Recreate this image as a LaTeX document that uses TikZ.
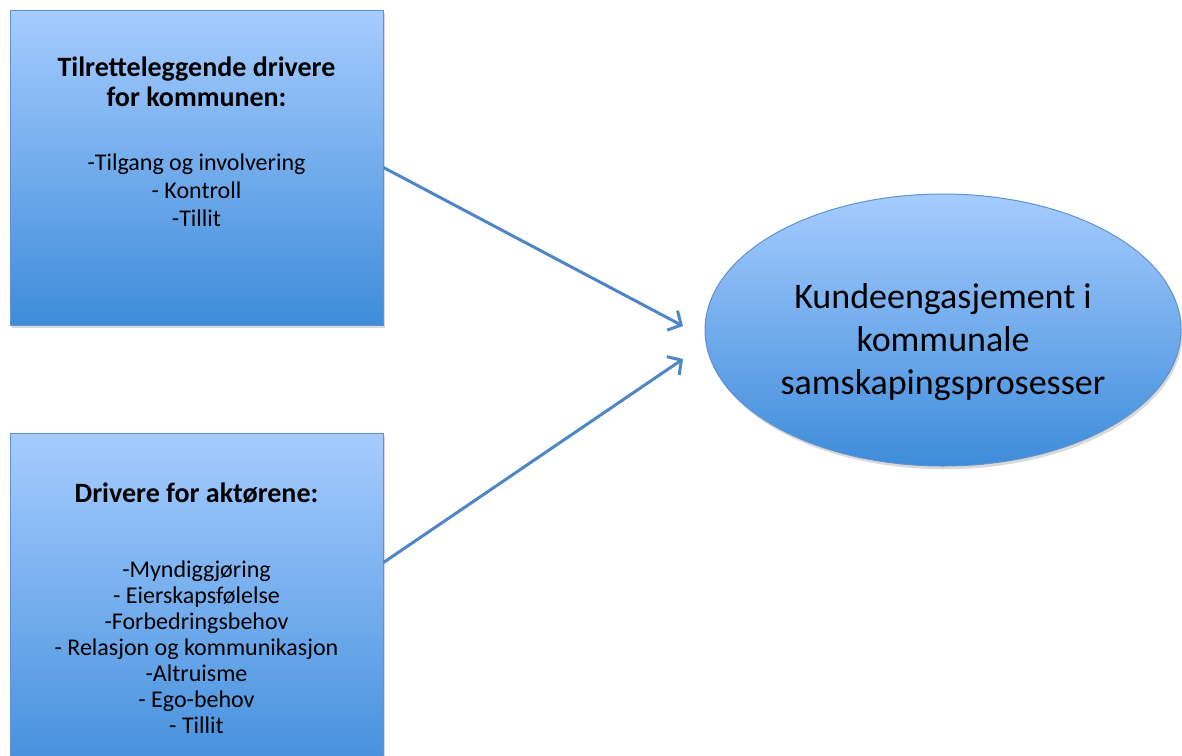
\documentclass[tikz,border=0pt]{standalone}
\usepackage{fontspec}
\setmainfont{Carlito}
\usetikzlibrary{positioning,shadows,arrows.meta,shapes.geometric}

\definecolor{lysblaa}{RGB}{166,204,255}
\definecolor{dypblaa}{RGB}{62,140,218}
\definecolor{kantblaa}{RGB}{96,146,206}
\definecolor{pilblaa}{RGB}{78,134,198}

\newcommand{\tittel}[1]{{\fontsize{14}{15}\selectfont\bfseries #1}}

\tikzset{
  driverboks/.style={rectangle, draw=kantblaa, line width=0.5pt,
    top color=lysblaa, bottom color=dypblaa, minimum width=186.5pt,
    drop shadow={opacity=0.3, shadow xshift=0.8pt, shadow yshift=-1.6pt}},
  maalboks/.style={ellipse, draw=kantblaa, line width=0.5pt,
    top color=lysblaa, bottom color=dypblaa,
    minimum width=238pt, minimum height=136pt,
    drop shadow={opacity=0.3, shadow xshift=0.8pt, shadow yshift=-1.6pt}},
  boksetekst/.style={align=center, inner sep=0pt, anchor=north,
    font=\fontsize{12}{13}\selectfont},
  pil/.style={->, draw=pilblaa, line width=1.5pt}
}

\begin{document}
\begin{tikzpicture}[x=0.5pt,y=-0.5pt,>={Straight Barb[length=5pt,width=11pt]}]
  \useasboundingbox (0,0) rectangle (1182,755);
  % boksene
  \node[driverboks, minimum height=157.5pt] (kommune) at (196.5,167.5) {};
  \node[driverboks, minimum height=178.5pt] (aktor) at (196.5,611.5) {};
  \node[maalboks] (kunde) at (943,330) {};
  % tekst
  \node[boksetekst, font=\fontsize{12}{14}\selectfont,
    below=23.5pt of kommune.north] (kommunetekst)
    {\tittel{Tilretteleggende drivere}\\[1pt] \tittel{for kommunen:}\\[18pt]
     -Tilgang og involvering\\ - Kontroll\\ -Tillit};
  \node[boksetekst, below=25pt of aktor.north] (aktortekst)
    {\tittel{Drivere for aktørene:}\\[24.5pt]
     -Myndiggjøring\\ - Eierskapsfølelse\\ -Forbedringsbehov\\
     - Relasjon og kommunikasjon\\ -Altruisme\\ - Ego-behov\\ - Tillit};
  \node[align=center, font=\fontsize{18}{21.5}\selectfont]
    (kundetekst) at ([yshift=-6pt]kunde.center)
    {Kundeengasjement i\\ kommunale\\ samskapingsprosesser};
  % piler
  \coordinate (fraB) at ([yshift=-65pt]aktor.north east);
  \coordinate (tilA) at (683,326);
  \coordinate (tilB) at (683,359);
  \draw[pil] (kommune.east) -- (tilA);
  \draw[pil] (fraB) -- (tilB);
\end{tikzpicture}
\end{document}
